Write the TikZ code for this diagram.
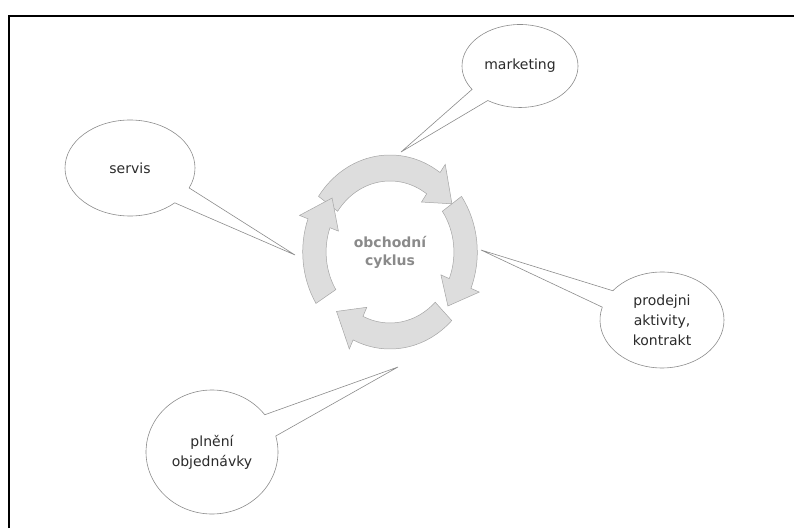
\documentclass[tikz,border=0pt]{standalone}
\usepackage{fontspec}
\setmainfont{DejaVu Sans}
\usetikzlibrary{shapes.callouts,shapes.geometric}
\definecolor{bubbleline}{HTML}{8C8C8C}
\definecolor{bubbletext}{HTML}{2B2B2B}
\definecolor{cyclefill}{HTML}{DDDDDD}
\definecolor{cycleline}{HTML}{A5A5A5}
\definecolor{cycletext}{HTML}{8A8A8A}
\tikzset{
  bubble/.style={ellipse callout, draw=bubbleline, line width=0.6pt, fill=white,
    text=bubbletext, font=\fontsize{14}{20}\selectfont, align=center,
    inner sep=0pt, callout pointer arc=22},
  cyclearrow/.style={fill=cyclefill, draw=cycleline, line width=0.5pt},
}

\begin{document}
\begin{tikzpicture}[x=1pt,y=1pt]
    \useasboundingbox (0,0) rectangle (794,528);
    % frame
    \draw[line width=2.5pt] (9,0) -- (9,512) -- (794,512);
    % four arrows of the cycle
    \begin{scope}[shift={(390,276)}, xscale=0.9]
        \foreach \s/\e/\t in {145/55/35, 35/-22/-40, -45/-115/-135, 212/160/140} {
            \draw[cyclearrow]
                (\s:97) arc[start angle=\s, end angle=\e, radius=97]
                -- (\e:107) -- (\t:84) -- (\e:61) -- (\e:71)
                arc[start angle=\e, end angle=\s, radius=71] -- cycle;
        }
    \end{scope}
    \node[text=cycletext, font=\fontsize{14}{18}\selectfont\bfseries, align=center]
        (cycle) at (390,276) {obchodní\\cyklus};
    % pointer tips
    \coordinate (mkttip) at (401,376);
    \coordinate (servtip) at (295,273);
    \coordinate (prodtip) at (481,278);
    \coordinate (plntip) at (398,161);
    % bubbles
    \node[bubble, minimum width=116, minimum height=83,
        callout absolute pointer={(mkttip)}] (marketing) at (520,462) {marketing};
    \node[bubble, minimum width=130, minimum height=96,
        callout absolute pointer={(servtip)}] (servis) at (130,360) {servis};
    \node[bubble, minimum width=124, minimum height=96,
        callout absolute pointer={(prodtip)}] (prodej) at (662,208) {prodejni\\aktivity,\\kontrakt};
    \node[bubble, minimum width=132, minimum height=124,
        callout absolute pointer={(plntip)}] (plneni) at (212,76) {plnění\\objednávky};
\end{tikzpicture}
\end{document}
